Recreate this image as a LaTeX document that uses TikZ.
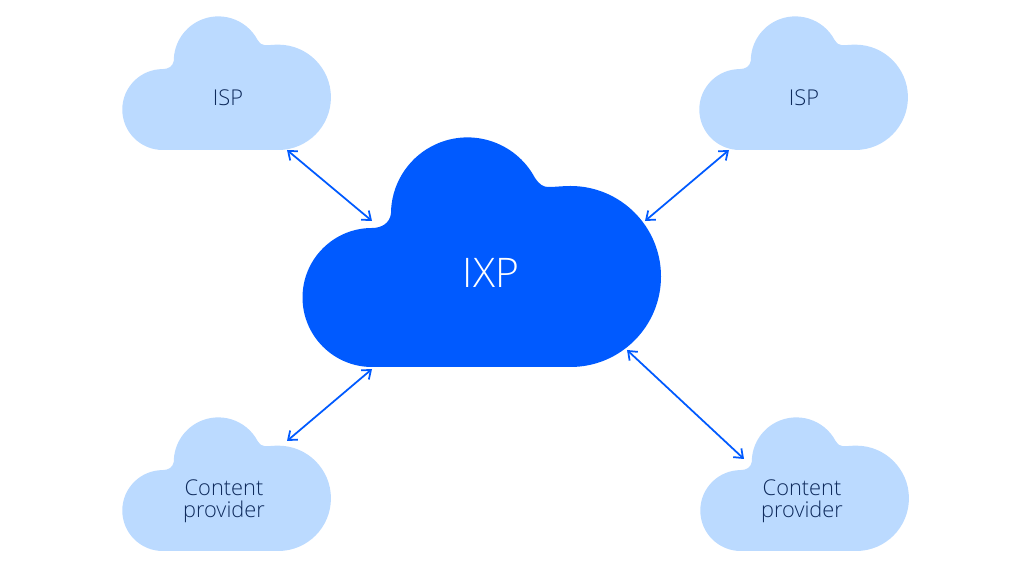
\documentclass[tikz,border=0pt]{standalone}
\usepackage{fontspec}
\setmainfont{Open Sans Light}
\usetikzlibrary{arrows.meta}
\definecolor{ixpblue}{HTML}{005AFF}
\definecolor{palecloud}{HTML}{BBDAFF}
\definecolor{inktext}{HTML}{0E2A5C}
\tikzset{
  cloudshape/.pic={
    \fill[pic actions](69.5,0)--(268.5,0)arc(-90:90:90.5)
      ..controls(260,181)and(254,180)..(246,180)
      ..controls(241,180)and(237,183)..(233,189)
      arc(28:180:76.5)
      ..controls(87.5,144)and(80,139)..(70,139)
      arc(90:270:69.5)--cycle;
  },
  smalltext/.style={text=inktext,font=\fontsize{15.5}{15.5}\selectfont,align=center},
  link/.style={<->,ixpblue,line width=1.25pt}
}
\begin{document}
\begin{tikzpicture}[x=0.025cm,y=0.025cm,>={Straight Barb[length=5.5pt,width=8.5pt]}]
  \useasboundingbox(0,0)rectangle(1024,576);
  \pic[fill=ixpblue]at(302,209){cloudshape};
  \foreach \x/\y in {122/426,699/426,122/25,700/25}
    \pic[fill=palecloud,scale=0.582]at(\x,\y){cloudshape};
  \node[text=white,font=\fontsize{29}{29}\selectfont](ixp)at(491,303){IXP};
  \node[smalltext](ispleft)at(228,478){ISP};
  \node[smalltext](ispright)at(804,478){ISP};
  \node[smalltext](contentleft)at(224,75){Content\\provider};
  \node[smalltext](contentright)at(802,75){Content\\provider};
  \coordinate(a1)at(287,426);\coordinate(a2)at(372,355);
  \coordinate(b1)at(729,426);\coordinate(b2)at(645,355);
  \coordinate(c1)at(372,207);\coordinate(c2)at(287,135);
  \coordinate(d1)at(627,226);\coordinate(d2)at(744,117);
  \foreach \p/\q in {a1/a2,b1/b2,c1/c2,d1/d2}
    \draw[link](\p)--(\q);
\end{tikzpicture}
\end{document}
